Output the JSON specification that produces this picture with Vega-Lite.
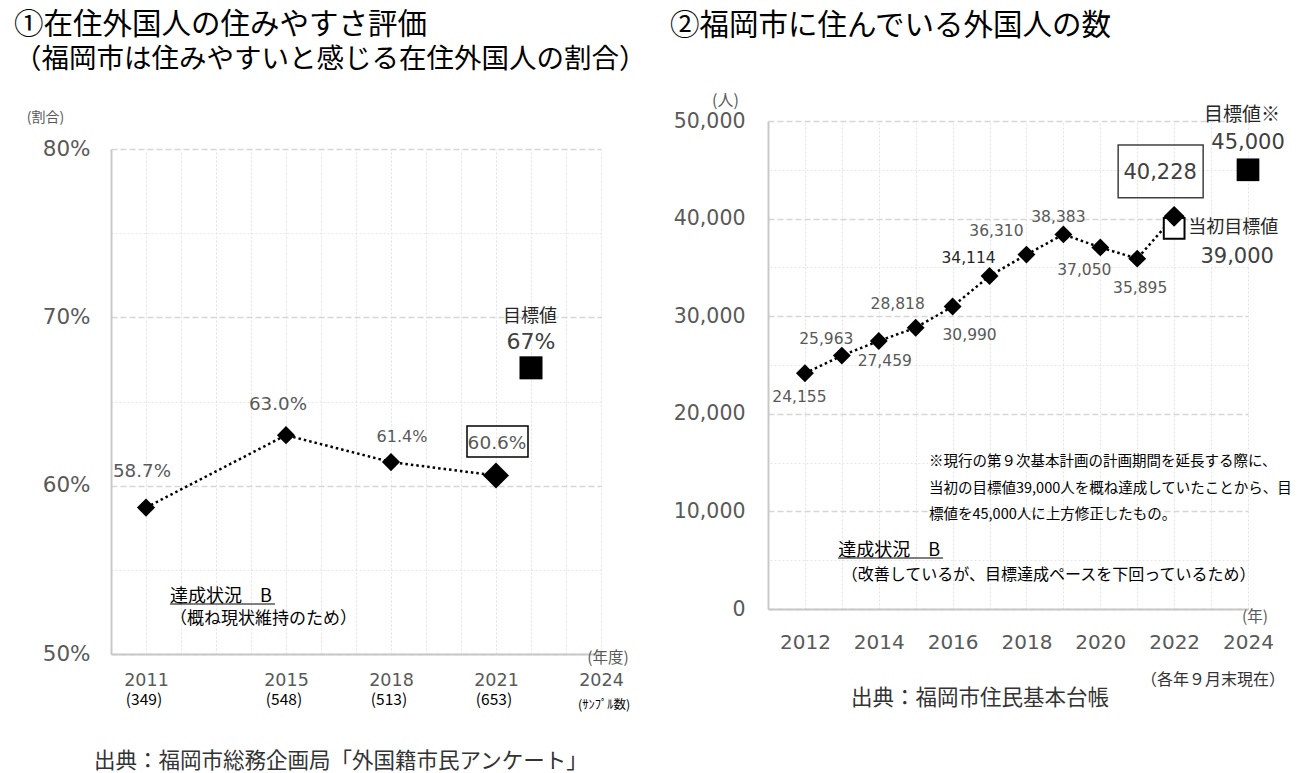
{
  "$schema": "https://vega.github.io/schema/vega-lite/v6.json",
  "background": "white",
  "padding": {"left": 14, "top": 10, "right": 5, "bottom": 5},
  "bounds": "full",
  "align": "none",
  "spacing": 23,
  "config": {
    "font": "Noto Sans CJK JP",
    "view": {"stroke": null},
    "text": {"font": "Noto Sans CJK JP"},
    "axis": {"labelFont": "DejaVu Sans", "titleFont": "Noto Sans CJK JP"}
  },
  "datasets": {
    "rate": [
      {"year": 2011, "rate": 58.7, "label": "58.7%", "n": "(349)"},
      {"year": 2015, "rate": 63.0, "label": "63.0%", "n": "(548)"},
      {"year": 2018, "rate": 61.4, "label": "61.4%", "n": "(513)"},
      {"year": 2021, "rate": 60.6, "label": "60.6%", "n": "(653)"}
    ],
    "rateTarget": [{"year": 2022, "rate": 67, "label": "67%", "name": "目標値"}],
    "pop": [
      {"year": 2012, "count": 24155},
      {"year": 2013, "count": 25963},
      {"year": 2014, "count": 27459},
      {"year": 2015, "count": 28818},
      {"year": 2016, "count": 30990},
      {"year": 2017, "count": 34114},
      {"year": 2018, "count": 36310},
      {"year": 2019, "count": 38383},
      {"year": 2020, "count": 37050},
      {"year": 2021, "count": 35895},
      {"year": 2022, "count": 40228}
    ],
    "popTarget": [{"year": 2024, "count": 45000, "name": "目標値※"}],
    "popInitial": [{"year": 2022, "count": 39000, "name": "当初目標値"}]
  },
  "hconcat": [
    {
      "vconcat": [
        {
          "width": 490,
          "height": 1,
          "title": {
            "text": "①在住外国人の住みやすさ評価",
            "subtitle": "（福岡市は住みやすいと感じる在住外国人の割合）",
            "anchor": "start",
            "frame": "group",
            "dx": -97,
            "offset": 47,
            "font": "Noto Sans CJK JP",
            "fontSize": 29.5,
            "fontWeight": "normal",
            "color": "black",
            "subtitleFont": "Noto Sans CJK JP",
            "subtitleFontSize": 27.5,
            "subtitleColor": "black",
            "subtitlePadding": 5
          },
          "data": {"values": [{}]},
          "mark": {"type": "point", "opacity": 0, "size": 1}
        },
        {
          "width": 490,
          "height": 505,
          "resolve": {"axis": {"x": "independent", "y": "independent"}},
          "layer": [
            {
              "data": {"name": "rate"},
              "mark": {"type": "line", "color": "black", "strokeWidth": 2.5, "strokeDash": [2.5, 3]},
              "encoding": {
                "x": {
                  "field": "year", "type": "quantitative",
                  "scale": {"domain": [2010, 2024], "nice": false, "zero": false},
                  "axis": {
                    "orient": "bottom",
                    "title": null,
                    "values": [2011, 2015, 2018, 2021, 2024],
                    "format": "d",
                    "labelFlush": false,
                    "labelOverlap": false,
                    "labelFontSize": 17.5,
                    "labelColor": "#595959",
                    "labelPadding": 17,
                    "ticks": false,
                    "tickSize": 0,
                    "domainColor": "#c8c8c8",
                    "domainWidth": 2,
                    "grid": false
                  }
                },
                "y": {
                  "field": "rate", "type": "quantitative",
                  "scale": {"domain": [50, 80], "nice": false, "zero": false},
                  "axis": {
                    "orient": "left",
                    "title": "(割合)",
                    "titleAngle": 0,
                    "titleX": -66,
                    "titleY": -32,
                    "titleAlign": "center",
                    "titleBaseline": "middle",
                    "titleFontSize": 14,
                    "titleFontWeight": "normal",
                    "titleColor": "#595959",
                    "values": [50, 60, 70, 80],
                    "labelExpr": "datum.value + '%'",
                    "labelFontSize": 21.5,
                    "labelColor": "#595959",
                    "labelPadding": 21,
                    "ticks": false,
                    "tickSize": 0,
                    "domainColor": "#c8c8c8",
                    "domainWidth": 2,
                    "grid": true,
                    "gridColor": "#d6d6d6",
                    "gridDash": [6, 3],
                    "gridWidth": 1.5
                  }
                }
              }
            },
            {
              "data": {"name": "rate"},
              "transform": [{"filter": "datum.year != 2021"}],
              "mark": {"type": "point", "shape": "diamond", "filled": true, "color": "black", "opacity": 1, "size": 330},
              "encoding": {
                "x": {"field": "year", "type": "quantitative",
                  "axis": {"orient": "top", "title": null, "values": [2011, 2012, 2013, 2014, 2015, 2016, 2017, 2018, 2019, 2020, 2021, 2022, 2023, 2024], "labels": false, "ticks": false, "domain": false, "grid": true, "gridColor": "#e3e3e3", "gridDash": [2, 2], "gridWidth": 1}},
                "y": {"field": "rate", "type": "quantitative",
                  "axis": {"orient": "right", "title": null, "values": [55, 65, 75], "labels": false, "ticks": false, "domain": false, "grid": true, "gridColor": "#e6e6e6", "gridDash": [2, 2], "gridWidth": 1}}
              }
            },
            {
              "data": {"name": "rate"},
              "transform": [{"filter": "datum.year == 2021"}],
              "mark": {"type": "point", "shape": "diamond", "filled": true, "color": "black", "opacity": 1, "size": 680},
              "encoding": {"x": {"field": "year", "type": "quantitative", "axis": null}, "y": {"field": "rate", "type": "quantitative", "axis": null}}
            },
            {
              "data": {"name": "rate"},
              "transform": [{"filter": "datum.year == 2021"}],
              "mark": {"type": "point", "shape": "M-1,-0.508L1,-0.508L1,0.508L-1,0.508Z", "filled": false, "stroke": "black", "strokeWidth": 1.5, "opacity": 1, "size": 3721, "xOffset": 1.5, "yOffset": -34},
              "encoding": {"x": {"field": "year", "type": "quantitative", "axis": null}, "y": {"field": "rate", "type": "quantitative", "axis": null}}
            },
            {
              "data": {"name": "rate"},
              "transform": [{"filter": "datum.year == 2011"}],
              "mark": {"type": "text", "font": "DejaVu Sans", "fontSize": 18.3, "color": "#595959", "dx": -4, "dy": -36},
              "encoding": {"x": {"field": "year", "type": "quantitative", "axis": null}, "y": {"field": "rate", "type": "quantitative", "axis": null}, "text": {"field": "label"}}
            },
            {
              "data": {"name": "rate"},
              "transform": [{"filter": "datum.year == 2015"}],
              "mark": {"type": "text", "font": "DejaVu Sans", "fontSize": 18.3, "color": "#595959", "dx": -8, "dy": -30},
              "encoding": {"x": {"field": "year", "type": "quantitative", "axis": null}, "y": {"field": "rate", "type": "quantitative", "axis": null}, "text": {"field": "label"}}
            },
            {
              "data": {"name": "rate"},
              "transform": [{"filter": "datum.year == 2018"}],
              "mark": {"type": "text", "font": "DejaVu Sans", "fontSize": 16, "color": "#595959", "dx": 11, "dy": -25},
              "encoding": {"x": {"field": "year", "type": "quantitative", "axis": null}, "y": {"field": "rate", "type": "quantitative", "axis": null}, "text": {"field": "label"}}
            },
            {
              "data": {"name": "rate"},
              "transform": [{"filter": "datum.year == 2021"}],
              "mark": {"type": "text", "font": "DejaVu Sans", "fontSize": 18.5, "color": "#595959", "dx": 1, "dy": -33},
              "encoding": {"x": {"field": "year", "type": "quantitative", "axis": null}, "y": {"field": "rate", "type": "quantitative", "axis": null}, "text": {"field": "label"}}
            },
            {
              "data": {"name": "rate"},
              "mark": {"type": "text", "fontSize": 15.5, "color": "black", "dx": -2, "dy": 46},
              "encoding": {"x": {"field": "year", "type": "quantitative", "axis": null}, "y": {"datum": 50, "axis": null}, "text": {"field": "n"}}
            },
            {
              "data": {"values": [{"t": "(ｻﾝﾌﾟﾙ数)"}]},
              "mark": {"type": "text", "fontSize": 12.5, "color": "black", "dx": 3, "dy": 51},
              "encoding": {"x": {"datum": 2024, "axis": null}, "y": {"datum": 50, "axis": null}, "text": {"field": "t"}}
            },
            {
              "data": {"values": [{"t": "(年度)"}]},
              "mark": {"type": "text", "fontSize": 15.5, "color": "#595959", "dx": 7, "dy": 4},
              "encoding": {"x": {"datum": 2024, "axis": null}, "y": {"datum": 50, "axis": null}, "text": {"field": "t"}}
            },
            {
              "data": {"name": "rateTarget"},
              "mark": {"type": "point", "shape": "square", "filled": true, "color": "black", "opacity": 1, "size": 530},
              "encoding": {"x": {"field": "year", "type": "quantitative", "axis": null}, "y": {"field": "rate", "type": "quantitative", "axis": null}}
            },
            {
              "data": {"name": "rateTarget"},
              "mark": {"type": "text", "font": "DejaVu Sans", "fontSize": 22, "color": "#404040", "dy": -26},
              "encoding": {"x": {"field": "year", "type": "quantitative", "axis": null}, "y": {"field": "rate", "type": "quantitative", "axis": null}, "text": {"field": "label"}}
            },
            {
              "data": {"name": "rateTarget"},
              "mark": {"type": "text", "fontSize": 18, "color": "#262626", "dx": -1, "dy": -51},
              "encoding": {"x": {"field": "year", "type": "quantitative", "axis": null}, "y": {"field": "rate", "type": "quantitative", "axis": null}, "text": {"field": "name"}}
            },
            {
              "data": {"values": [{"t": "達成状況　B"}]},
              "mark": {"type": "text", "fontSize": 18, "color": "black", "align": "left"},
              "encoding": {"x": {"datum": 2011.686, "axis": null}, "y": {"datum": 53.39, "axis": null}, "text": {"field": "t"}}
            },
            {
              "data": {"values": [{"t": "underline"}]},
              "mark": {"type": "rule", "color": "black", "strokeWidth": 1},
              "encoding": {"x": {"datum": 2011.686, "axis": null}, "x2": {"datum": 2014.686}, "y": {"datum": 52.97, "axis": null}}
            },
            {
              "data": {"values": [{"t": "（概ね現状維持のため）"}]},
              "mark": {"type": "text", "fontSize": 17, "color": "black", "align": "left"},
              "encoding": {"x": {"datum": 2011.686, "axis": null}, "y": {"datum": 52.08, "axis": null}, "text": {"field": "t"}}
            },
            {
              "data": {"values": [{"t": "出典：福岡市総務企画局「外国籍市民アンケート」"}]},
              "mark": {"type": "text", "fontSize": 21.5, "color": "#333333"},
              "encoding": {"x": {"datum": 2016.57, "axis": null}, "y": {"datum": 43.6, "axis": null}, "text": {"field": "t"}}
            }
          ]
        }
      ],
      "spacing": 27,
      "bounds": "flush"
    },
    {
      "width": 480,
      "height": 488,
      "title": {
        "text": "②福岡市に住んでいる外国人の数",
        "anchor": "start",
        "frame": "group",
        "dx": -98,
        "offset": 51,
        "font": "Noto Sans CJK JP",
        "fontSize": 29.5,
        "fontWeight": "normal",
        "color": "black"
      },
      "resolve": {"axis": {"x": "independent", "y": "independent"}},
      "layer": [
        {
          "data": {"name": "pop"},
          "mark": {"type": "line", "color": "black", "strokeWidth": 2.5, "strokeDash": [2.5, 3]},
          "encoding": {
            "x": {
              "field": "year", "type": "quantitative",
              "scale": {"domain": [2011, 2024], "nice": false, "zero": false},
              "axis": {
                "orient": "bottom",
                "title": null,
                "values": [2012, 2014, 2016, 2018, 2020, 2022, 2024],
                "format": "d",
                "labelFlush": false,
                "labelOverlap": false,
                "labelFontSize": 20,
                "labelColor": "#595959",
                "labelPadding": 23,
                "ticks": false,
                "tickSize": 0,
                "domainColor": "#c8c8c8",
                "domainWidth": 2,
                "grid": false
              }
            },
            "y": {
              "field": "count", "type": "quantitative",
              "scale": {"domain": [0, 50000], "nice": false},
              "axis": {
                "orient": "left",
                "title": "(人)",
                "titleAngle": 0,
                "titleX": -43,
                "titleY": -21,
                "titleAlign": "center",
                "titleBaseline": "middle",
                "titleFontSize": 16,
                "titleFontWeight": "normal",
                "titleColor": "#595959",
                "values": [0, 10000, 20000, 30000, 40000, 50000],
                "format": ",d",
                "labelFontSize": 20.5,
                "labelColor": "#595959",
                "labelPadding": 23,
                "ticks": false,
                "tickSize": 0,
                "domainColor": "#c8c8c8",
                "domainWidth": 2,
                "grid": true,
                "gridColor": "#d6d6d6",
                "gridDash": [6, 3],
                "gridWidth": 1.5
              }
            }
          }
        },
        {
          "data": {"name": "popInitial"},
          "mark": {"type": "point", "shape": "square", "filled": true, "fill": "white", "stroke": "black", "strokeWidth": 2, "opacity": 1, "size": 430},
          "encoding": {
            "x": {"field": "year", "type": "quantitative",
              "axis": {"orient": "top", "title": null, "values": [2012, 2013, 2014, 2015, 2016, 2017, 2018, 2019, 2020, 2021, 2022, 2023, 2024], "labels": false, "ticks": false, "domain": false, "grid": true, "gridColor": "#e3e3e3", "gridDash": [2, 2], "gridWidth": 1}},
            "y": {"field": "count", "type": "quantitative",
              "axis": {"orient": "right", "title": null, "values": [5000, 15000, 25000, 35000, 45000], "labels": false, "ticks": false, "domain": false, "grid": true, "gridColor": "#e6e6e6", "gridDash": [2, 2], "gridWidth": 1}}
          }
        },
        {
          "data": {"name": "pop"},
          "transform": [{"filter": "datum.year != 2022"}],
          "mark": {"type": "point", "shape": "diamond", "filled": true, "color": "black", "opacity": 1, "size": 320},
          "encoding": {"x": {"field": "year", "type": "quantitative", "axis": null}, "y": {"field": "count", "type": "quantitative", "axis": null}}
        },
        {
          "data": {"name": "pop"},
          "transform": [{"filter": "datum.year == 2022"}],
          "mark": {"type": "point", "shape": "diamond", "filled": true, "color": "black", "opacity": 1, "size": 440},
          "encoding": {"x": {"field": "year", "type": "quantitative", "axis": null}, "y": {"field": "count", "type": "quantitative", "axis": null}}
        },
        {
          "data": {"name": "pop"},
          "transform": [{"filter": "datum.year == 2022"}],
          "mark": {"type": "point", "shape": "M-1,-0.6235L1,-0.6235L1,0.6235L-1,0.6235Z", "filled": false, "stroke": "#404040", "strokeWidth": 1.5, "opacity": 1, "size": 7225, "xOffset": -13.5, "yOffset": -45},
          "encoding": {"x": {"field": "year", "type": "quantitative", "axis": null}, "y": {"field": "count", "type": "quantitative", "axis": null}}
        },
        {
          "data": {"name": "pop"},
          "transform": [{"filter": "datum.year == 2012"}],
          "mark": {"type": "text", "font": "DejaVu Sans", "fontSize": 15.5, "color": "#595959", "dx": -5.5, "dy": 23.5},
          "encoding": {"x": {"field": "year", "type": "quantitative", "axis": null}, "y": {"field": "count", "type": "quantitative", "axis": null}, "text": {"field": "count", "type": "quantitative", "format": ",d"}}
        },
        {
          "data": {"name": "pop"},
          "transform": [{"filter": "datum.year == 2013"}],
          "mark": {"type": "text", "font": "DejaVu Sans", "fontSize": 15.5, "color": "#595959", "dx": -15.5, "dy": -17},
          "encoding": {"x": {"field": "year", "type": "quantitative", "axis": null}, "y": {"field": "count", "type": "quantitative", "axis": null}, "text": {"field": "count", "type": "quantitative", "format": ",d"}}
        },
        {
          "data": {"name": "pop"},
          "transform": [{"filter": "datum.year == 2014"}],
          "mark": {"type": "text", "font": "DejaVu Sans", "fontSize": 15.5, "color": "#595959", "dx": 6, "dy": 20},
          "encoding": {"x": {"field": "year", "type": "quantitative", "axis": null}, "y": {"field": "count", "type": "quantitative", "axis": null}, "text": {"field": "count", "type": "quantitative", "format": ",d"}}
        },
        {
          "data": {"name": "pop"},
          "transform": [{"filter": "datum.year == 2015"}],
          "mark": {"type": "text", "font": "DejaVu Sans", "fontSize": 15.5, "color": "#595959", "dx": -18, "dy": -24},
          "encoding": {"x": {"field": "year", "type": "quantitative", "axis": null}, "y": {"field": "count", "type": "quantitative", "axis": null}, "text": {"field": "count", "type": "quantitative", "format": ",d"}}
        },
        {
          "data": {"name": "pop"},
          "transform": [{"filter": "datum.year == 2016"}],
          "mark": {"type": "text", "font": "DejaVu Sans", "fontSize": 15.5, "color": "#595959", "dx": 17, "dy": 28.5},
          "encoding": {"x": {"field": "year", "type": "quantitative", "axis": null}, "y": {"field": "count", "type": "quantitative", "axis": null}, "text": {"field": "count", "type": "quantitative", "format": ",d"}}
        },
        {
          "data": {"name": "pop"},
          "transform": [{"filter": "datum.year == 2017"}],
          "mark": {"type": "text", "font": "DejaVu Sans", "fontSize": 15.5, "color": "#262626", "dx": -21, "dy": -18},
          "encoding": {"x": {"field": "year", "type": "quantitative", "axis": null}, "y": {"field": "count", "type": "quantitative", "axis": null}, "text": {"field": "count", "type": "quantitative", "format": ",d"}}
        },
        {
          "data": {"name": "pop"},
          "transform": [{"filter": "datum.year == 2018"}],
          "mark": {"type": "text", "font": "DejaVu Sans", "fontSize": 15.5, "color": "#595959", "dx": -30, "dy": -24},
          "encoding": {"x": {"field": "year", "type": "quantitative", "axis": null}, "y": {"field": "count", "type": "quantitative", "axis": null}, "text": {"field": "count", "type": "quantitative", "format": ",d"}}
        },
        {
          "data": {"name": "pop"},
          "transform": [{"filter": "datum.year == 2019"}],
          "mark": {"type": "text", "font": "DejaVu Sans", "fontSize": 15.5, "color": "#595959", "dx": -5, "dy": -17},
          "encoding": {"x": {"field": "year", "type": "quantitative", "axis": null}, "y": {"field": "count", "type": "quantitative", "axis": null}, "text": {"field": "count", "type": "quantitative", "format": ",d"}}
        },
        {
          "data": {"name": "pop"},
          "transform": [{"filter": "datum.year == 2020"}],
          "mark": {"type": "text", "font": "DejaVu Sans", "fontSize": 15.5, "color": "#595959", "dx": -16, "dy": 23},
          "encoding": {"x": {"field": "year", "type": "quantitative", "axis": null}, "y": {"field": "count", "type": "quantitative", "axis": null}, "text": {"field": "count", "type": "quantitative", "format": ",d"}}
        },
        {
          "data": {"name": "pop"},
          "transform": [{"filter": "datum.year == 2021"}],
          "mark": {"type": "text", "font": "DejaVu Sans", "fontSize": 15.5, "color": "#595959", "dx": 3, "dy": 29},
          "encoding": {"x": {"field": "year", "type": "quantitative", "axis": null}, "y": {"field": "count", "type": "quantitative", "axis": null}, "text": {"field": "count", "type": "quantitative", "format": ",d"}}
        },
        {
          "data": {"name": "pop"},
          "transform": [{"filter": "datum.year == 2022"}],
          "mark": {"type": "text", "font": "DejaVu Sans", "fontSize": 21, "color": "#404040", "dx": -14, "dy": -43},
          "encoding": {"x": {"field": "year", "type": "quantitative", "axis": null}, "y": {"field": "count", "type": "quantitative", "axis": null}, "text": {"field": "count", "type": "quantitative", "format": ",d"}}
        },
        {
          "data": {"name": "popTarget"},
          "mark": {"type": "point", "shape": "square", "filled": true, "color": "black", "opacity": 1, "size": 515},
          "encoding": {"x": {"field": "year", "type": "quantitative", "axis": null}, "y": {"field": "count", "type": "quantitative", "axis": null}}
        },
        {
          "data": {"name": "popTarget"},
          "mark": {"type": "text", "font": "DejaVu Sans", "fontSize": 21, "color": "#404040", "dy": -27},
          "encoding": {"x": {"field": "year", "type": "quantitative", "axis": null}, "y": {"field": "count", "type": "quantitative", "axis": null}, "text": {"field": "count", "type": "quantitative", "format": ",d"}}
        },
        {
          "data": {"name": "popTarget"},
          "mark": {"type": "text", "fontSize": 19, "color": "#262626", "dx": -6, "dy": -55},
          "encoding": {"x": {"field": "year", "type": "quantitative", "axis": null}, "y": {"field": "count", "type": "quantitative", "axis": null}, "text": {"field": "name"}}
        },
        {
          "data": {"name": "popInitial"},
          "mark": {"type": "text", "fontSize": 18, "color": "#262626", "align": "left", "dx": 14},
          "encoding": {"x": {"field": "year", "type": "quantitative", "axis": null}, "y": {"field": "count", "type": "quantitative", "axis": null}, "text": {"field": "name"}}
        },
        {
          "data": {"name": "popInitial"},
          "mark": {"type": "text", "font": "DejaVu Sans", "fontSize": 21, "color": "#404040", "dx": 63, "dy": 29},
          "encoding": {"x": {"field": "year", "type": "quantitative", "axis": null}, "y": {"field": "count", "type": "quantitative", "axis": null}, "text": {"field": "count", "type": "quantitative", "format": ",d"}}
        },
        {
          "data": {"values": [{"t": ["※現行の第９次基本計画の計画期間を延長する際に、", "当初の目標値39,000人を概ね達成していたことから、目", "標値を45,000人に上方修正したもの。"]}]},
          "mark": {"type": "text", "fontSize": 14.5, "color": "black", "align": "left", "baseline": "middle", "lineHeight": 26.5},
          "encoding": {"x": {"datum": 2015.36, "axis": null}, "y": {"datum": 15061, "axis": null}, "text": {"field": "t"}}
        },
        {
          "data": {"values": [{"t": "達成状況　B"}]},
          "mark": {"type": "text", "fontSize": 18, "color": "black", "align": "left"},
          "encoding": {"x": {"datum": 2012.9, "axis": null}, "y": {"datum": 5943, "axis": null}, "text": {"field": "t"}}
        },
        {
          "data": {"values": [{"t": "underline"}]},
          "mark": {"type": "rule", "color": "black", "strokeWidth": 1},
          "encoding": {"x": {"datum": 2012.9, "axis": null}, "x2": {"datum": 2015.74}, "y": {"datum": 5225, "axis": null}}
        },
        {
          "data": {"values": [{"t": "（改善しているが、目標達成ペースを下回っているため）"}]},
          "mark": {"type": "text", "fontSize": 16, "color": "black", "align": "left"},
          "encoding": {"x": {"datum": 2013.0, "axis": null}, "y": {"datum": 3484, "axis": null}, "text": {"field": "t"}}
        },
        {
          "data": {"values": [{"t": "(年)"}]},
          "mark": {"type": "text", "fontSize": 15.5, "color": "#595959"},
          "encoding": {"x": {"datum": 2024.19, "axis": null}, "y": {"datum": -820, "axis": null}, "text": {"field": "t"}}
        },
        {
          "data": {"values": [{"t": "（各年９月末現在）"}]},
          "mark": {"type": "text", "fontSize": 16, "color": "#333333"},
          "encoding": {"x": {"datum": 2023.05, "axis": null}, "y": {"datum": -7275, "axis": null}, "text": {"field": "t"}}
        },
        {
          "data": {"values": [{"t": "出典：福岡市住民基本台帳"}]},
          "mark": {"type": "text", "fontSize": 21.5, "color": "#333333"},
          "encoding": {"x": {"datum": 2016.74, "axis": null}, "y": {"datum": -9221, "axis": null}, "text": {"field": "t"}}
        }
      ]
    }
  ]
}
